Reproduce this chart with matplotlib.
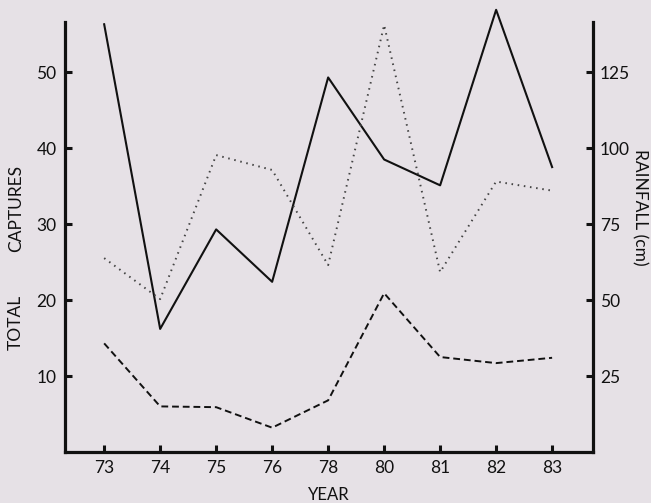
import matplotlib
matplotlib.use("Agg")
import matplotlib.pyplot as plt
import numpy as np

years = ["73", "74", "75", "76", "78", "80", "81", "82", "83"]
captures_solid = [56.3, 16.2, 29.3, 22.4, 49.3, 38.5, 35.1, 58.2, 37.5]
captures_dashed = [14.3, 6.0, 5.9, 3.2, 6.8, 20.9, 12.5, 11.7, 12.4]
rainfall_cm = [63.8, 50.3, 97.7, 92.8, 61.5, 140.5, 59.2, 89.0, 86.0]

left_ticks = [10, 20, 30, 40, 50]
right_ticks = [25, 50, 75, 100, 125]

BG = "#e6e1e6"
INK = "#111111"

plt.rcParams["font.family"] = ["Lato", "DejaVu Sans"]

figure = plt.figure(figsize=(6.51, 5.03), dpi=100, facecolor=BG)
axis = figure.add_axes([0.0998, 0.1014, 0.8111, 0.8549])
axis.set_facecolor(BG)
axis_right = axis.twinx()

x = np.arange(len(years))

axis.plot(x, captures_solid, color=INK, linewidth=1.5, clip_on=False)
axis.plot(x, captures_dashed, color=INK, linewidth=1.4,
          linestyle=(0, (3.5, 2)), clip_on=False)
axis_right.plot(x, rainfall_cm, color="#444444", linewidth=1.4,
                linestyle=(0, (0.8, 2.4)), clip_on=False)

axis.set_xlim(-0.7, 8.73)
axis.set_ylim(0, 56.6)
axis_right.set_ylim(0, 141.5)

axis.set_xticks(x)
axis.set_xticklabels(years)
axis.set_yticks(left_ticks)
axis_right.set_yticks(right_ticks)

for a in (axis, axis_right):
    a.spines["top"].set_visible(False)
    for side in ("left", "right", "bottom"):
        a.spines[side].set_linewidth(2.3)
        a.spines[side].set_color(INK)

axis.spines["right"].set_visible(False)
axis_right.spines["left"].set_visible(False)
axis_right.spines["bottom"].set_visible(False)

axis.tick_params(axis="both", direction="in", length=5, width=2.2,
                 colors=INK, labelsize=12.5, pad=6)
axis_right.tick_params(axis="y", direction="in", length=5, width=2.2,
                       colors=INK, labelsize=12.5, pad=5)

axis.set_xlabel("YEAR", fontsize=12, color=INK, labelpad=8)

axis.text(-0.093, 0.302, "TOTAL", transform=axis.transAxes, rotation=90,
          ha="center", va="center", fontsize=12.5, color=INK)
axis.text(-0.093, 0.567, "CAPTURES", transform=axis.transAxes, rotation=90,
          ha="center", va="center", fontsize=12.5, color=INK)
axis.text(1.089, 0.57, "RAINFALL (cm)", transform=axis.transAxes,
          rotation=-90, ha="center", va="center", fontsize=12.5, color=INK)

figure.savefig("out.png", dpi=100, facecolor=BG)
